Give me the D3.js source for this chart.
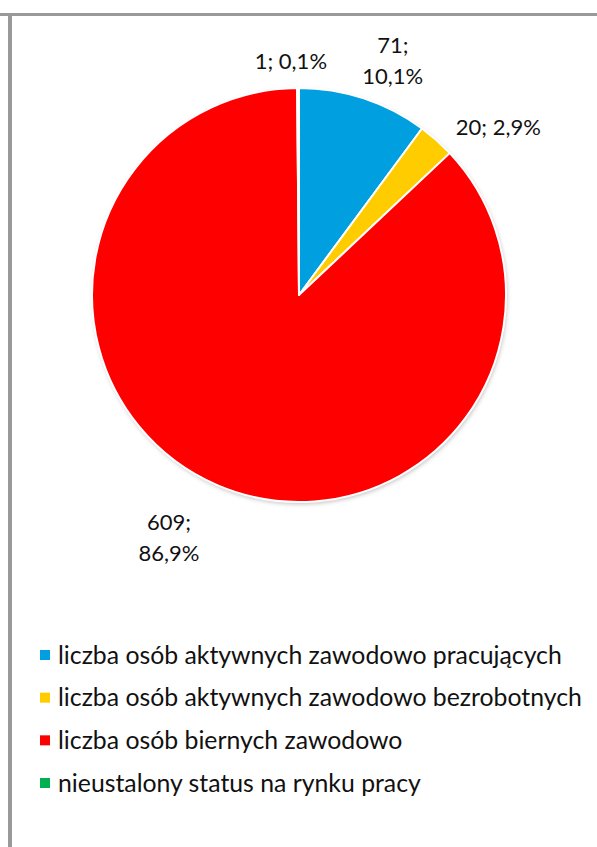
<!DOCTYPE html>
<html>
<head>
  <meta charset="utf-8">
  <script src="https://cdn.jsdelivr.net/npm/d3@7"></script>
  <style>
    body { margin: 0; background: #fff; }
    svg { display: block; font-family: Lato, "Open Sans", sans-serif; }
    .lbl { font-size: 22px; fill: #111; text-anchor: middle; }
    .leg { font-size: 24.8px; fill: #111; }
  </style>
</head>
<body>
<div id="chart"></div>
<script>
// data, clockwise from 12 o'clock
var categories = [
  "liczba osób aktywnych zawodowo pracujących",
  "liczba osób aktywnych zawodowo bezrobotnych",
  "liczba osób biernych zawodowo",
  "nieustalony status na rynku pracy"
];
var counts = [71, 20, 609, 1];
var percents = ["10,1%", "2,9%", "86,9%", "0,1%"];
var colors = ["#009fdf", "#ffcc00", "#ff0000", "#00b050"];

var W = 597, H = 847;
var cx = 299, cy = 295, R = 207;

var svg = d3.select("#chart").append("svg")
  .attr("width", W).attr("height", H);

// frame lines
svg.append("line").attr("x1", 0).attr("x2", W).attr("y1", 14.5).attr("y2", 14.5)
  .attr("stroke", "#999").attr("stroke-width", 3);
svg.append("line").attr("x1", 10).attr("x2", 10).attr("y1", 13).attr("y2", H)
  .attr("stroke", "#999").attr("stroke-width", 4);

var defs = svg.append("defs");
var f = defs.append("filter").attr("id", "shadow")
  .attr("x", "-10%").attr("y", "-10%").attr("width", "120%").attr("height", "120%");
f.append("feDropShadow").attr("dx", 1).attr("dy", 2).attr("stdDeviation", 2)
  .attr("flood-color", "#000").attr("flood-opacity", 0.25);

var data = categories.map(function (c, i) {
  return { name: c, value: counts[i], pct: percents[i], color: colors[i] };
});

var pie = d3.pie().sort(null).value(function (d) { return d.value; });
var arcs = pie(data);
var arc = d3.arc().innerRadius(0).outerRadius(R);

var g = svg.append("g").attr("transform", "translate(" + cx + "," + cy + ")");
g.append("circle").attr("r", R).attr("fill", "#fff").attr("filter", "url(#shadow)");
g.selectAll("path.slice")
  .data(arcs)
  .enter().append("path")
    .attr("class", "slice")
    .attr("d", arc)
    .attr("fill", function (d) { return d.data.color; })
    .attr("stroke", "#fff")
    .attr("stroke-width", 2)
    .attr("stroke-linejoin", "round");

// data labels: outside the pie, nudged like the original layout
var labelArc = d3.arc().innerRadius(255).outerRadius(255);
var nudge = [[14, 0], [30, 31], [-30, 0], [-7, 29]];
var twoLine = [true, false, true, false];
var lg = svg.append("g").attr("transform", "translate(" + cx + "," + cy + ")");
arcs.forEach(function (d, i) {
  var p = labelArc.centroid(d);
  var x = p[0] + nudge[i][0], y = p[1] + nudge[i][1];
  var t = lg.append("text").attr("class", "lbl").attr("x", x).attr("y", y);
  if (twoLine[i]) {
    t.append("tspan").attr("x", x).attr("dy", 0).text(d.data.value + ";");
    t.append("tspan").attr("x", x).attr("dy", 31).text(d.data.pct);
  } else {
    t.text(d.data.value + "; " + d.data.pct);
  }
});

// legend
var legY = d3.scalePoint().domain(categories).range([655, 783]);
var leg = svg.append("g").selectAll("g")
  .data(data).enter().append("g")
  .attr("transform", function (d) { return "translate(40," + legY(d.name) + ")"; });
leg.append("rect").attr("x", 0).attr("y", -5).attr("width", 10).attr("height", 10)
  .attr("fill", function (d) { return d.color; });
leg.append("text").attr("class", "leg").attr("x", 18).attr("y", 8.5)
  .text(function (d) { return d.name; });
</script>
</body>
</html>
